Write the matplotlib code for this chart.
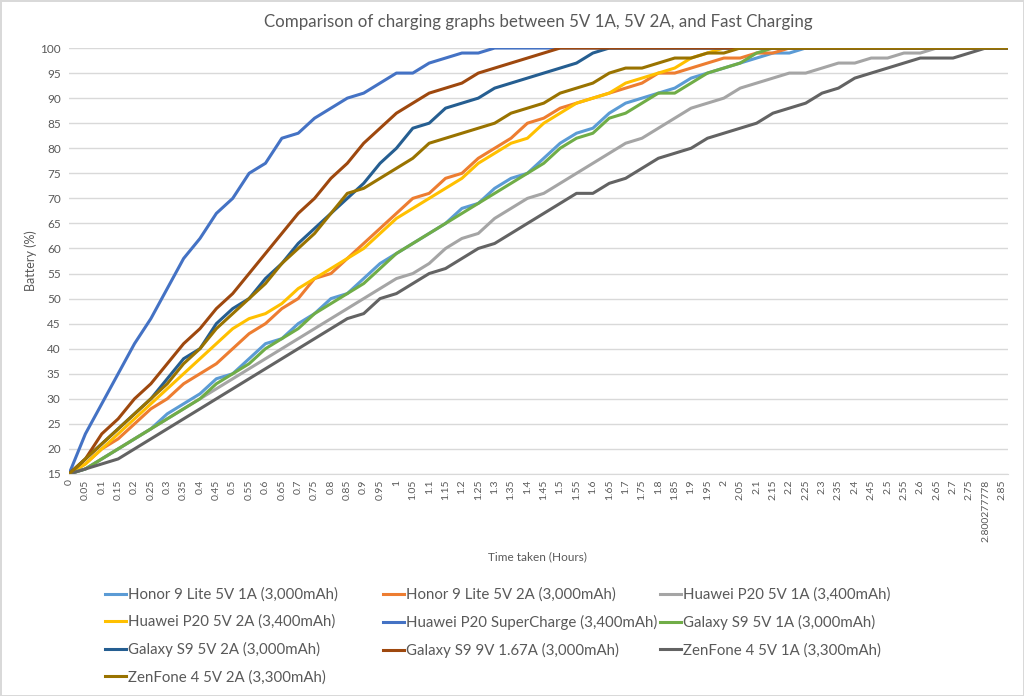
import numpy as np
import matplotlib
matplotlib.use("Agg")
import matplotlib.pyplot as plt

plt.rcParams['font.family'] = ['Lato', 'DejaVu Sans']

# battery % read every 0.05 h (3 min); after the last value the phone sits at 100
honor_1a = [15,16,18,20,22,24,27,29,31,34,35,38,41,42,45,47,50,51,54,57,59,61,63,65,68,69,72,74,75,78,81,83,84,87,89,90,91,92,94,95,96,97,98,99,99]
honor_2a = [15,17,20,22,25,28,30,33,35,37,40,43,45,48,50,54,55,58,61,64,67,70,71,74,75,78,80,82,85,86,88,89,90,91,92,93,95,95,96,97,98,98,99,99]
p20_1a = [15,16,18,20,22,24,26,28,30,32,34,36,38,40,42,44,46,48,50,52,54,55,57,60,62,63,66,68,70,71,73,75,77,79,81,82,84,86,88,89,90,92,93,94,95,95,96,97,97,98,98,99,99]
p20_2a = [15,17,20,23,26,29,32,35,38,41,44,46,47,49,52,54,56,58,60,63,66,68,70,72,74,77,79,81,82,85,87,89,90,91,93,94,95,96,98,99]
p20_super = [15,23,29,35,41,46,52,58,62,67,70,75,77,82,83,86,88,90,91,93,95,95,97,98,99,99]
s9_1a = [15,16,18,20,22,24,26,28,30,33,35,37,40,42,44,47,49,51,53,56,59,61,63,65,67,69,71,73,75,77,80,82,83,86,87,89,91,91,93,95,96,97,99]
s9_2a = [15,18,21,24,27,30,34,38,40,45,48,50,54,57,61,64,67,70,73,77,80,84,85,88,89,90,92,93,94,95,96,97,99]
s9_fast = [15,18,23,26,30,33,37,41,44,48,51,55,59,63,67,70,74,77,81,84,87,89,91,92,93,95,96,97,98,99]
zen_1a = [15,16,17,18,20,22,24,26,28,30,32,34,36,38,40,42,44,46,47,50,51,53,55,56,58,60,61,63,65,67,69,71,71,73,74,76,78,79,80,82,83,84,85,87,88,89,91,92,94,95,96,97,98,98,98,99]
zen_2a = [15,18,21,24,27,30,33,37,40,44,47,50,53,57,60,63,67,71,72,74,76,78,81,82,83,84,85,87,88,89,91,92,93,95,96,96,97,98,98,99,99]

names = ["Honor 9 Lite 5V 1A (3,000mAh)", "Honor 9 Lite 5V 2A (3,000mAh)",
         "Huawei P20 5V 1A (3,400mAh)", "Huawei P20 5V 2A (3,400mAh)",
         "Huawei P20 SuperCharge (3,400mAh)", "Galaxy S9 5V 1A (3,000mAh)",
         "Galaxy S9 5V 2A (3,000mAh)", "Galaxy S9 9V 1.67A (3,000mAh)",
         "ZenFone 4 5V 1A (3,300mAh)", "ZenFone 4 5V 2A (3,300mAh)"]
colors = ["#5B9BD5", "#ED7D31", "#A5A5A5", "#FFC000", "#4472C4",
          "#70AD47", "#255E91", "#9E480E", "#636363", "#997300"]

xlabels = ["0","0.05","0.1","0.15","0.2","0.25","0.3","0.35","0.4","0.45",
           "0.5","0.55","0.6","0.65","0.7","0.75","0.8","0.85","0.9","0.95",
           "1","1.05","1.1","1.15","1.2","1.25","1.3","1.35","1.4","1.45",
           "1.5","1.55","1.6","1.65","1.7","1.75","1.8","1.85","1.9","1.95",
           "2","2.05","2.1","2.15","2.2","2.25","2.3","2.35","2.4","2.45",
           "2.5","2.55","2.6","2.65","2.7","2.75","2.800277778","2.85"]

ticks = np.arange(len(xlabels)) * 0.05
x_end = 2.8667  # last logged minute sits just past the 2.85 label
hours = np.append(ticks, x_end)
n = len(hours)

series = [honor_1a, honor_2a, p20_1a, p20_2a, p20_super,
          s9_1a, s9_2a, s9_fast, zen_1a, zen_2a]

fig = plt.figure(figsize=(10.24, 6.96), dpi=100)
fig.patch.set_edgecolor("#D9D9D9")
fig.patch.set_linewidth(2)
ax = fig.add_axes([0.0674, 0.319, 0.9166, 0.612])

lines = []
for vals, name, c in zip(series, names, colors):
    full = vals + [100] * (n - len(vals))
    ln, = ax.plot(hours, full, color=c, lw=2.2, label=name, solid_joinstyle="round")
    lines.append(ln)

ax.set_xlim(0, x_end)
ax.set_ylim(15, 100)
ax.set_yticks(range(15, 101, 5))
ax.set_xticks(ticks)
ax.set_xticklabels(xlabels, rotation=90, fontsize=7.5, color="#595959")
ax.tick_params(axis="y", labelsize=8.5, labelcolor="#595959", length=0, pad=6)
ax.tick_params(axis="x", length=0, pad=4)
ax.grid(axis="y", color="#D9D9D9", lw=1)
ax.set_axisbelow(True)
for s in ["left", "right", "top"]:
    ax.spines[s].set_visible(False)
ax.spines["bottom"].set_color("#D9D9D9")

ax.set_title("Comparison of charging graphs between 5V 1A, 5V 2A, and Fast Charging",
             fontsize=12.2, color="#595959", pad=15)
ax.set_ylabel("Battery (%)", fontsize=9, color="#595959", labelpad=2)
fig.text(0.525, 0.2, "Time taken (Hours)", fontsize=8.5, color="#595959", ha="center", va="center")

# excel fills the legend row by row; one legend per column keeps the columns where excel put them
col_x = [0.1025, 0.374, 0.6445]
for j, x0 in enumerate(col_x):
    idx = list(range(j, len(names), 3))
    leg = fig.legend([lines[i] for i in idx], [names[i] for i in idx],
                     loc="upper left", bbox_to_anchor=(x0, 0.156), frameon=False,
                     fontsize=10.8, labelcolor="#595959", handlelength=1.4,
                     handletextpad=0.15, labelspacing=0.87, borderpad=0,
                     borderaxespad=0)

fig.savefig("out.png", dpi=100)
